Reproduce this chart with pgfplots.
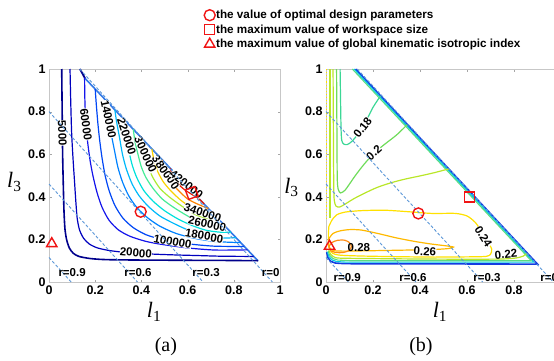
\documentclass[border=0pt]{standalone}
\usepackage{fontspec}
\setmainfont{Liberation Serif}
\setsansfont{Liberation Sans}
\usepackage{pgfplots}
\pgfplotsset{compat=1.18}
\definecolor{cA}{RGB}{0,0,140}
\definecolor{cB}{RGB}{0,0,190}
\definecolor{cC}{RGB}{20,20,235}
\definecolor{cD}{RGB}{0,70,245}
\definecolor{cE}{RGB}{0,130,255}
\definecolor{cF}{RGB}{0,185,250}
\definecolor{cG}{RGB}{0,225,220}
\definecolor{cH}{RGB}{70,235,150}
\definecolor{cI}{RGB}{170,235,50}
\definecolor{cJ}{RGB}{250,210,0}
\definecolor{cK}{RGB}{255,130,0}
\definecolor{cL}{RGB}{235,25,0}
\definecolor{hyp}{RGB}{50,120,230}
\definecolor{dsh}{RGB}{90,150,215}
\definecolor{mred}{RGB}{240,20,20}
\definecolor{bBlue}{RGB}{20,60,225}
\definecolor{bCyan}{RGB}{0,200,230}
\definecolor{bGreen}{RGB}{90,220,130}
\definecolor{q18}{RGB}{60,215,150}
\definecolor{q20}{RGB}{110,220,90}
\definecolor{q22}{RGB}{185,230,40}
\definecolor{q24}{RGB}{255,225,0}
\definecolor{q26}{RGB}{255,185,0}
\definecolor{q28}{RGB}{255,140,20}
\pgfplotsset{
  myax/.style={scale only axis, height=213pt, xmin=0, xmax=1, ymin=0, ymax=1,
    xtick={0,0.2,0.4,0.6,0.8,1}, ytick={0,0.2,0.4,0.6,0.8,1},
    xticklabels={0,0.2,0.4,0.6,0.8,1}, yticklabels={0,0.2,0.4,0.6,0.8,1},
    /pgf/number format/assume math mode=true,
    tick label style={font=\sffamily\bfseries\fontsize{12.5}{13}\selectfont},
    axis line style={black!22}, tick style={black!35}, major tick length=2.5pt,
    clip=false},
  ct/.style={line width=1.2pt, smooth, tension=0.45, forget plot},
  bd/.style={line width=1.3pt, forget plot},
  dl/.style={dsh, line width=0.9pt, dash pattern=on 3pt off 2pt, forget plot},
  mk/.style={only marks, mred, line width=1.4pt, forget plot},
}
\tikzset{
  clab/.style={font=\sffamily\bfseries\fontsize{11.5}{12}\selectfont, inner sep=0pt, fill=white},
  rlab/.style={font=\sffamily\bfseries\fontsize{11.5}{12}\selectfont, inner sep=0pt},
}
\begin{document}
\begin{tikzpicture}
\useasboundingbox (0pt,0pt) rectangle (554pt,360pt);
% ---------------- (a) ----------------
\begin{axis}[myax, at={(49pt,78pt)}, anchor=south west, width=231pt,
  legend style={at={(0.658,1.291)}, anchor=north west, draw=none, fill=none,
    font=\sffamily\bfseries\fontsize{11.7}{12}\selectfont, nodes={inner sep=1pt},
    row sep=2.5pt, cells={anchor=west}},
  legend image code/.code={\draw[#1] plot coordinates {(0.2cm,0cm)};},
  legend entries={the value of optimal design parameters, the maximum value of workspace size, the maximum value of global kinematic isotropic index}]
\addlegendimage{only marks, mark=o, mark size=5.5pt, mred, line width=1.4pt}
\addlegendimage{only marks, mark=square, mark size=5pt, mred, line width=1.4pt}
\addlegendimage{only marks, mark=triangle, mark size=6pt, mred, line width=1.4pt}
% boundary
\addplot[bd, hyp, line width=1.6pt] coordinates {(0.156,0.956) (0.905,0.099)};
\addplot[bd, cA, line width=1.8pt] coordinates {(0.134,1.0) (0.156,0.956)};
% contours
\addplot[ct, cA, line width=1.6pt] coordinates {(0.055,1.0) (0.057,0.8) (0.059,0.6) (0.062,0.45) (0.065,0.33) (0.069,0.25) (0.076,0.2) (0.088,0.16) (0.105,0.135) (0.13,0.12) (0.18,0.11) (0.25,0.105) (0.4,0.103) (0.6,0.102) (0.8,0.101) (0.905,0.1)};
\addplot[ct, cB] coordinates {(0.091,1.0) (0.094,0.85) (0.098,0.7) (0.104,0.58) (0.11,0.48) (0.116,0.38) (0.122,0.3) (0.132,0.245) (0.15,0.205) (0.175,0.178) (0.21,0.16) (0.26,0.148) (0.32,0.14) (0.376,0.136) (0.45,0.131) (0.55,0.127) (0.65,0.124) (0.75,0.121) (0.886,0.12)};
\addplot[ct, cC] coordinates {(0.154,0.959) (0.155,0.87) (0.157,0.8) (0.16,0.74) (0.168,0.65) (0.178,0.57) (0.19,0.5) (0.208,0.42) (0.23,0.35) (0.26,0.29) (0.3,0.245) (0.35,0.215) (0.415,0.192) (0.48,0.178) (0.6,0.16) (0.72,0.15) (0.859,0.151)};
\addplot[ct, cD] coordinates {(0.2,0.906) (0.205,0.83) (0.212,0.74) (0.22,0.66) (0.23,0.58) (0.243,0.5) (0.26,0.43) (0.285,0.36) (0.32,0.3) (0.365,0.255) (0.42,0.222) (0.48,0.202) (0.535,0.19) (0.62,0.177) (0.72,0.168) (0.845,0.167)};
\addplot[ct, cE] coordinates {(0.245,0.855) (0.252,0.8) (0.262,0.74) (0.272,0.68) (0.283,0.62) (0.298,0.54) (0.318,0.47) (0.345,0.405) (0.38,0.35) (0.425,0.303) (0.48,0.262) (0.55,0.228) (0.63,0.205) (0.72,0.19) (0.83,0.185)};
\addplot[ct, cF] coordinates {(0.285,0.809) (0.293,0.75) (0.305,0.68) (0.318,0.6) (0.335,0.53) (0.36,0.46) (0.39,0.405) (0.43,0.355) (0.48,0.31) (0.54,0.275) (0.6,0.245) (0.672,0.218) (0.74,0.207) (0.81,0.208)};
\addplot[ct, cG] coordinates {(0.325,0.763) (0.33,0.72) (0.336,0.684) (0.345,0.62) (0.36,0.55) (0.38,0.49) (0.41,0.43) (0.45,0.38) (0.5,0.335) (0.56,0.295) (0.62,0.265) (0.68,0.243) (0.74,0.234) (0.787,0.234)};
\addplot[ct, cH] coordinates {(0.365,0.717) (0.372,0.66) (0.385,0.6) (0.4,0.54) (0.42,0.49) (0.45,0.44) (0.49,0.39) (0.54,0.35) (0.6,0.31) (0.645,0.286) (0.69,0.271) (0.76,0.265)};
\addplot[ct, cI] coordinates {(0.405,0.671) (0.41,0.63) (0.418,0.596) (0.43,0.54) (0.45,0.49) (0.48,0.44) (0.52,0.4) (0.57,0.36) (0.63,0.318) (0.68,0.3) (0.735,0.293)};
\addplot[ct, cJ] coordinates {(0.445,0.626) (0.455,0.57) (0.47,0.52) (0.495,0.47) (0.53,0.425) (0.575,0.38) (0.625,0.345) (0.665,0.327) (0.712,0.32)};
\addplot[ct, cK] coordinates {(0.49,0.574) (0.498,0.54) (0.51,0.5) (0.53,0.465) (0.56,0.43) (0.6,0.39) (0.645,0.365) (0.69,0.345)};
\addplot[ct, cL] coordinates {(0.525,0.534) (0.535,0.5) (0.555,0.465) (0.585,0.435) (0.62,0.41) (0.65,0.39) (0.672,0.366)};
% labels
\node[clab, rotate=-88] at (axis cs:0.058,0.70) {5000};
\node[clab, rotate=-82] at (axis cs:0.16,0.74) {60000};
\node[clab, rotate=-78] at (axis cs:0.258,0.765) {140000};
\node[clab, rotate=-72] at (axis cs:0.336,0.684) {220000};
\node[clab, rotate=-65] at (axis cs:0.418,0.598) {300000};
\node[clab, rotate=-55] at (axis cs:0.505,0.515) {380000};
\node[clab, rotate=-38] at (axis cs:0.595,0.46) {420000};
\node[clab, rotate=-18] at (axis cs:0.665,0.326) {340000};
\node[clab, rotate=-12] at (axis cs:0.685,0.272) {260000};
\node[clab, rotate=-10] at (axis cs:0.672,0.216) {180000};
\node[clab, rotate=-10] at (axis cs:0.535,0.19) {100000};
\node[clab, rotate=-5] at (axis cs:0.376,0.137) {20000};
% dashed r-lines
\addplot[dl] coordinates {(0,0.115) (0.096,0)};
\addplot[dl] coordinates {(0,0.46) (0.383,0)};
\addplot[dl] coordinates {(0,0.8) (0.667,0)};
\addplot[dl] coordinates {(0.133,1.0) (0.967,0)};
\node[rlab] at (axis cs:0.10,0.045) {r=0.9};
\node[rlab] at (axis cs:0.385,0.045) {r=0.6};
\node[rlab] at (axis cs:0.68,0.045) {r=0.3};
\node[rlab] at (axis cs:0.96,0.045) {r=0};
% markers
\addplot[mk, mark=o, mark size=5.5pt] coordinates {(0.397,0.33)};
\addplot[mk, mark=square, mark size=5pt, mark options={rotate=20}] coordinates {(0.618,0.418)};
\addplot[mk, mark=triangle, mark size=6pt] coordinates {(0.012,0.18)};
% axis labels
\node at (rel axis cs:0.455,-0.14) {\fontsize{22}{22}\selectfont\textit{l}\textsubscript{1}};
\node at (rel axis cs:-0.15,0.47) {\fontsize{22}{22}\selectfont\textit{l}\textsubscript{3}};
\node at (rel axis cs:0.506,-0.305) {\fontsize{20}{20}\selectfont (a)};
\end{axis}
% ---------------- (b) ----------------
\begin{axis}[myax, at={(326pt,78pt)}, anchor=south west, width=235pt]
% boundary band
\addplot[bd, bBlue, line width=1.6pt] coordinates {(0.003,0.14) (0.008,0.115) (0.02,0.097) (0.04,0.089) (0.08,0.086) (0.5,0.085) (0.9,0.084) (0.126,1.0)};
\addplot[bd, bCyan, line width=1.1pt] coordinates {(0.006,0.142) (0.012,0.12) (0.025,0.104) (0.045,0.096) (0.09,0.093) (0.5,0.093) (0.885,0.093) (0.119,1.0)};
\addplot[bd, bGreen, line width=1.1pt] coordinates {(0.009,0.145) (0.016,0.125) (0.03,0.11) (0.05,0.103) (0.1,0.1) (0.5,0.1) (0.873,0.1) (0.112,1.0)};
\addplot[ct, q22] coordinates {(0.012,0.15) (0.02,0.13) (0.035,0.117) (0.06,0.112) (0.2,0.11) (0.4,0.108) (0.6,0.107) (0.75,0.108) (0.81,0.113) (0.84,0.122) (0.855,0.136)};
% left-edge lines
\addplot[bd, q24, line width=1.1pt, dotted] coordinates {(0.004,1.0) (0.004,0.3)};
\addplot[bd, q22, line width=1.1pt] coordinates {(0.017,1.0) (0.017,0.3)};
% interior contours
\addplot[ct, q18] coordinates {(0.06,1.0) (0.062,0.85) (0.064,0.72) (0.067,0.665) (0.075,0.648) (0.09,0.645) (0.11,0.66) (0.14,0.7) (0.17,0.755) (0.2,0.82) (0.232,0.874)};
\addplot[ct, q20] coordinates {(0.045,1.0) (0.046,0.8) (0.047,0.6) (0.048,0.48) (0.052,0.435) (0.062,0.418) (0.08,0.43) (0.1,0.46) (0.125,0.5) (0.16,0.55) (0.204,0.605) (0.25,0.647) (0.3,0.69) (0.346,0.739)};
\addplot[ct, q22] coordinates {(0.03,1.0) (0.031,0.8) (0.032,0.6) (0.033,0.45) (0.035,0.385) (0.042,0.357) (0.058,0.352) (0.08,0.365) (0.12,0.392) (0.17,0.42) (0.22,0.445) (0.28,0.467) (0.34,0.484) (0.4,0.498) (0.46,0.513) (0.522,0.531)};
\addplot[ct, q24] coordinates {(0.012,0.26) (0.025,0.29) (0.045,0.315) (0.08,0.328) (0.15,0.335) (0.25,0.337) (0.35,0.33) (0.45,0.322) (0.55,0.322) (0.6,0.31) (0.635,0.28) (0.66,0.24) (0.685,0.195) (0.705,0.155) (0.7,0.13) (0.68,0.12) (0.6,0.118) (0.45,0.117) (0.3,0.119) (0.15,0.122) (0.06,0.126) (0.028,0.135) (0.014,0.16) (0.01,0.21) (0.012,0.26)};
\addplot[ct, q26] coordinates {(0.01,0.2) (0.03,0.228) (0.06,0.24) (0.1,0.246) (0.15,0.244) (0.22,0.228) (0.3,0.207) (0.38,0.19) (0.45,0.178) (0.51,0.17) (0.542,0.164) (0.52,0.157) (0.45,0.152) (0.35,0.15) (0.25,0.148) (0.15,0.146) (0.07,0.145) (0.03,0.148) (0.013,0.165) (0.01,0.2)};
\addplot[ct, q28] coordinates {(0.012,0.165) (0.025,0.185) (0.05,0.196) (0.08,0.196) (0.1,0.185) (0.108,0.166) (0.098,0.148) (0.075,0.139) (0.045,0.138) (0.022,0.146) (0.012,0.165)};
% labels
\node[clab, rotate=52] at (axis cs:0.156,0.726) {0.18};
\node[clab, rotate=42] at (axis cs:0.204,0.607) {0.2};
\node[clab, rotate=-58] at (axis cs:0.67,0.213) {0.24};
\node[clab, rotate=-4] at (axis cs:0.421,0.143) {0.26};
\node[rlab, rotate=5] at (axis cs:0.766,0.131) {0.22};
\node[rlab] at (axis cs:0.14,0.162) {0.28};
% dashed r-lines
\addplot[dl] coordinates {(0,0.115) (0.096,0)};
\addplot[dl] coordinates {(0,0.46) (0.383,0)};
\addplot[dl] coordinates {(0,0.8) (0.667,0)};
\addplot[dl] coordinates {(0.133,1.0) (0.967,0)};
\node[rlab] at (axis cs:0.09,0.022) {r=0.9};
\node[rlab] at (axis cs:0.37,0.022) {r=0.6};
\node[rlab] at (axis cs:0.685,0.022) {r=0.3};
\node[rlab] at (axis cs:0.95,0.022) {r=0};
% markers
\addplot[mk, mark=o, mark size=5.5pt] coordinates {(0.393,0.322)};
\addplot[mk, mark=square, mark size=5pt] coordinates {(0.61,0.40)};
\addplot[mk, mark=triangle, mark size=6pt] coordinates {(0.015,0.168)};
% axis labels
\node at (rel axis cs:0.485,-0.14) {\fontsize{22}{22}\selectfont\textit{l}\textsubscript{1}};
\node at (rel axis cs:-0.147,0.446) {\fontsize{22}{22}\selectfont\textit{l}\textsubscript{3}};
\node at (rel axis cs:0.404,-0.305) {\fontsize{20}{20}\selectfont (b)};
\end{axis}
\end{tikzpicture}
\end{document}
